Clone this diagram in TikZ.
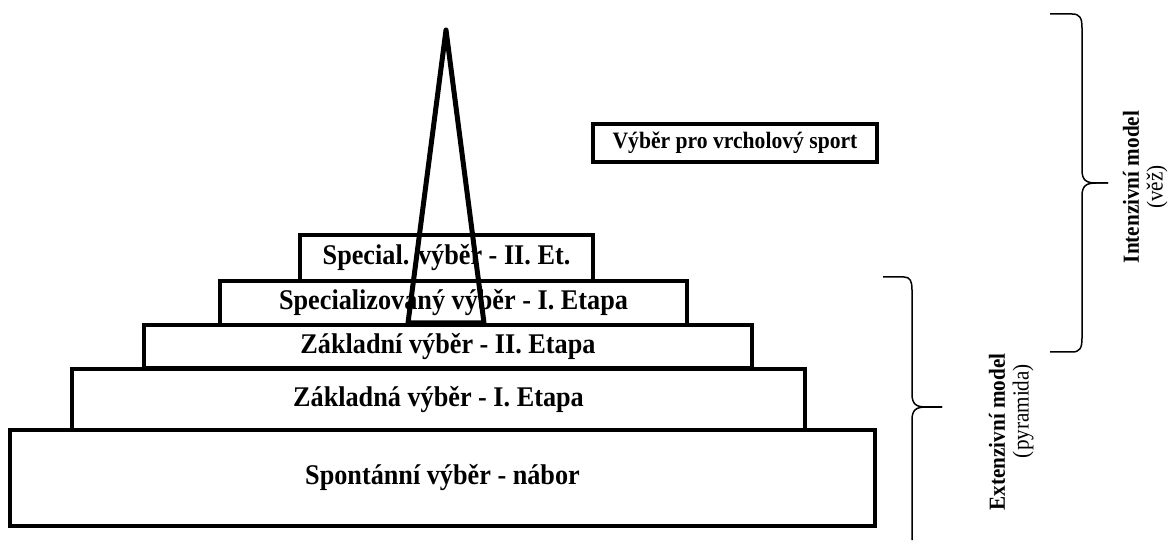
\documentclass[tikz,border=0pt]{standalone}
\usepackage{fontspec}
\setmainfont{Liberation Serif}
\newfontfamily\condfont[FakeStretch=0.92]{Liberation Serif}
\begin{document}
\begin{tikzpicture}[x=1pt,y=-1pt,
  stepbox/.style={draw, line width=4.5pt, inner sep=0pt, font=\condfont\fontsize{28.5}{32}\selectfont\bfseries},
  topbox/.style={draw, line width=4.5pt, inner sep=0pt, font=\condfont\fontsize{23.5}{27}\selectfont\bfseries},
  spire/.style={line width=5pt, line join=round},
  brace/.style={line width=1.5pt},
  sidelabel/.style={rotate=90, inner sep=0pt, font=\condfont\fontsize{23}{27}\selectfont\bfseries},
  sidesub/.style={rotate=90, inner sep=0pt, font=\condfont\fontsize{23}{27}\selectfont}
]
\useasboundingbox (0,0) rectangle (1176,545);

% pyramid steps
\node[stepbox, minimum width=865pt, minimum height=96pt] (spont) at (442.5,478) {Spontánní výběr - nábor};
\node[stepbox, minimum width=733pt, minimum height=61pt] (zakl1) at (438.5,399.5) {Základná výběr - I. Etapa};
\node[stepbox, minimum width=608pt, minimum height=43pt] (zakl2) at (448,346.5) {Základní výběr - II. Etapa};
\node[stepbox, minimum width=467pt, minimum height=44pt] (spec1) at (453.5,303) {Specializovaný výběr - I. Etapa};
\node[stepbox, minimum width=293pt, minimum height=46pt] (spec2) at (446.5,258) {Special. výběr - II. Et.};
\node[topbox, minimum width=284pt, minimum height=38pt] (vrchol) at (735,143) {Výběr pro vrcholový sport};

% spire (tower)
\coordinate (apex) at (446,30);
\coordinate (sl) at (408,323);
\coordinate (sr) at (484,323);
\draw[spire] (apex) -- (sl) -- (sr) -- cycle;

% upper brace (intensive model)
\coordinate (ut) at (1050,14);
\coordinate (um) at (1108,183);
\coordinate (ub) at (1050,352);
\draw[brace] (ut) -- (1072,14) .. controls (1080,14) and (1082,18) .. (1082,28)
  -- (1082,170) .. controls (1082,180) and (1086,183) .. (1096,183) -- (um);
\draw[brace] (um) -- (1096,183) .. controls (1086,183) and (1082,186) .. (1082,196)
  -- (1082,338) .. controls (1082,348) and (1080,352) .. (1072,352) -- (ub);

% lower brace (extensive model)
\coordinate (lt) at (883,277);
\coordinate (lm) at (942,407);
\coordinate (lb) at (912,540);
\draw[brace] (lt) -- (904,277) .. controls (910,277) and (912,281) .. (912,290)
  -- (912,394) .. controls (912,404) and (916,407) .. (926,407) -- (lm);
\draw[brace] (lm) -- (926,407) .. controls (916,407) and (912,410) .. (912,420)
  -- (lb);

% side labels
\node[sidelabel] (intenz) at (1131,187) {Intenzivní model};
\node[sidesub] (vez) at (1157,187) {(věž)};
\node[sidelabel] (extenz) at (997,432) {Extenzivní model};
\node[sidesub] (pyr) at (1023,411) {(pyramida)};
\end{tikzpicture}
\end{document}
